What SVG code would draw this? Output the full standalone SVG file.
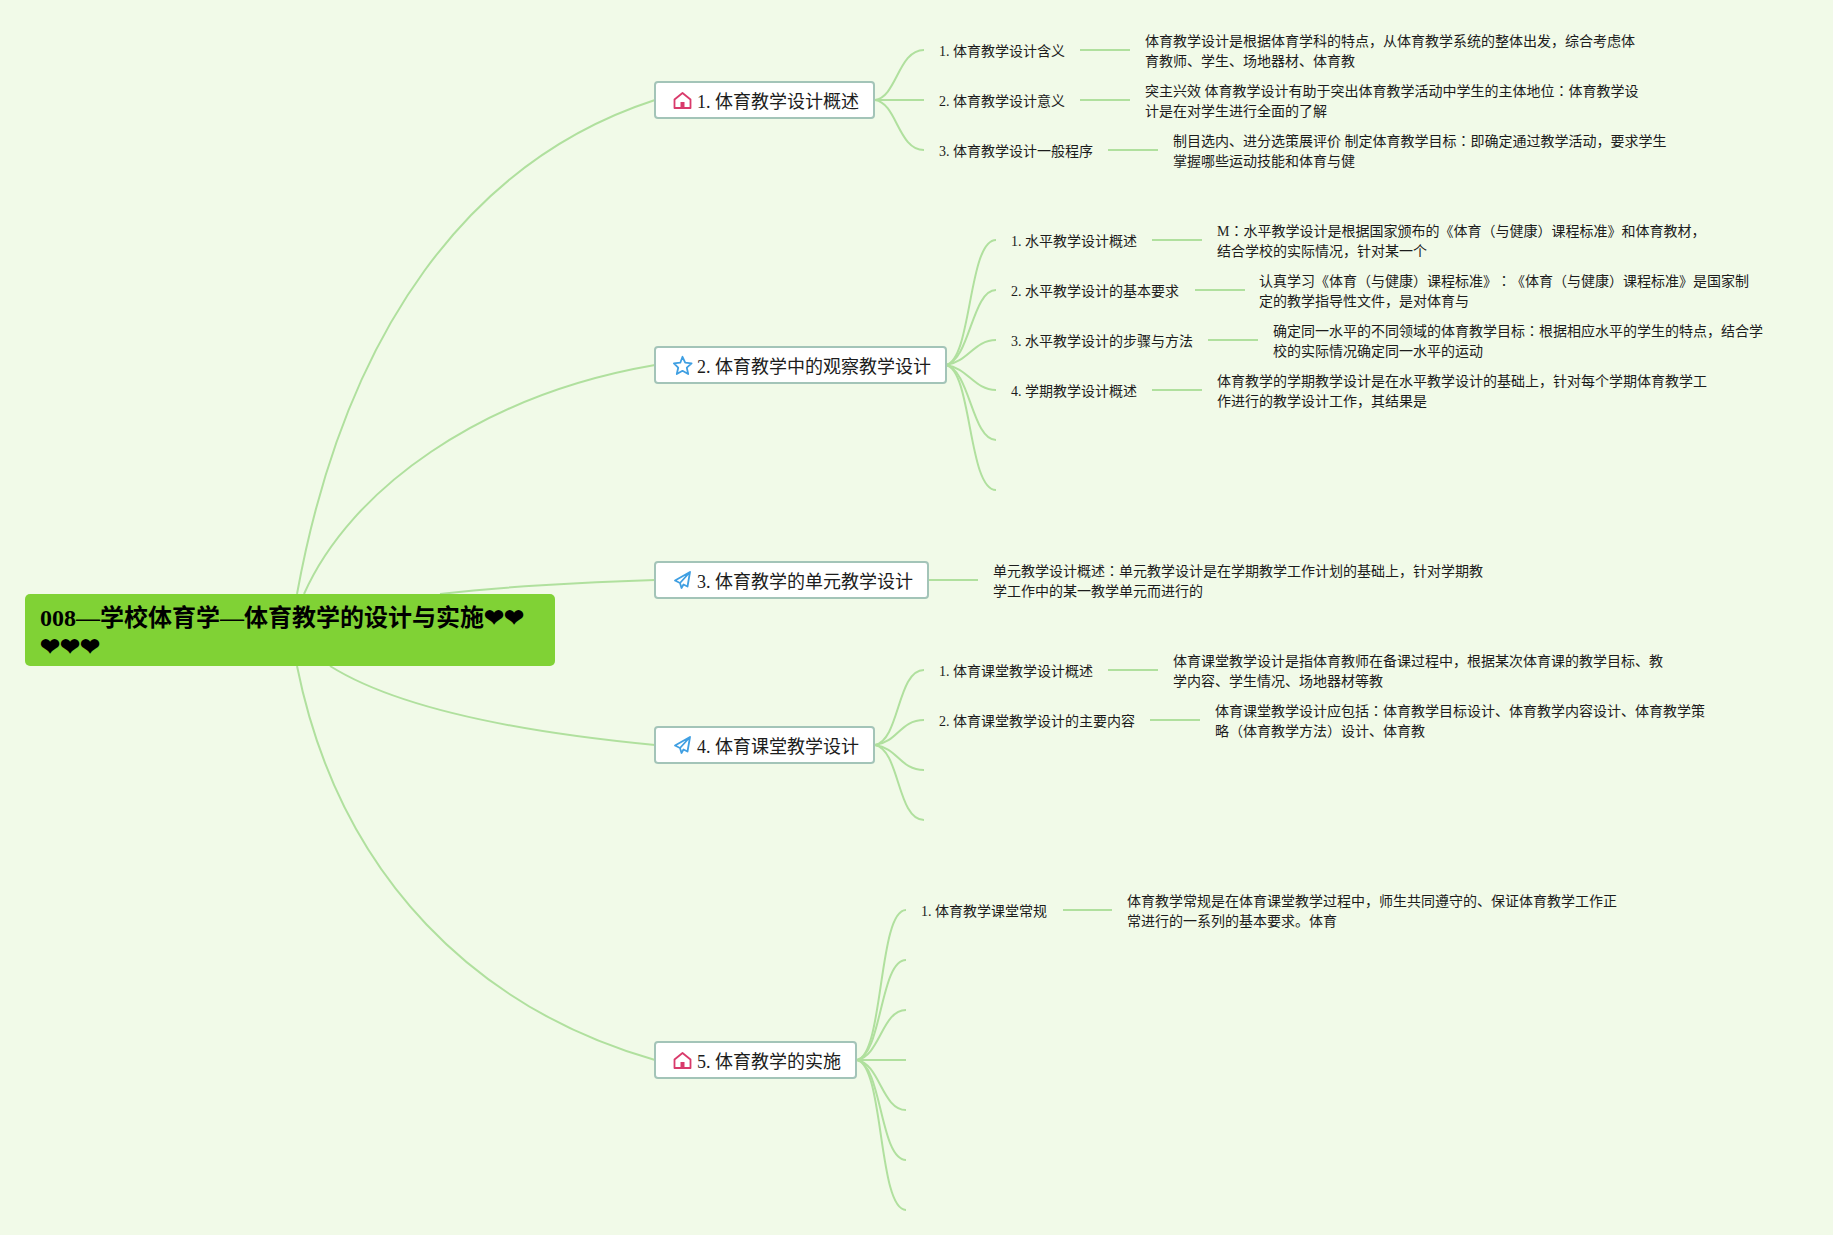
<svg xmlns="http://www.w3.org/2000/svg" width="1833" height="1235" viewBox="0 0 1833 1235">
<defs>
<style>
text{font-family:"Liberation Serif","Noto Sans CJK SC",serif;fill:#1c1c1c;font-feature-settings:"chws" 0,"halt" 0;text-spacing-trim:space-all}
.root{font-size:24px;font-weight:700;fill:#000}
.topic{font-size:18px}
.sub,.desc{font-size:14px}
.c{font-family:"Noto Sans CJK TC",sans-serif}
.node{fill:#fff;stroke:#a3c4b8;stroke-width:2}
#connectors path{fill:none;stroke:#b0e09e;stroke-width:2}
.house,.star,.plane{fill:none;stroke-width:1.8;stroke-linejoin:round}
.house{stroke:#d93a6b}.star,.plane{stroke:#3f9fe2}
</style>
<g id="icon-house"><path class="house" d="M1.500 17V8.500L9.500 2l8 6.500V17z"/><rect x="7.500" y="11" width="4" height="6" fill="#d93a6b"/></g>
<path id="icon-star" class="star" d="M9.500.8l2.700 5.900 6.400.7-4.800 4.300 1.400 6.300-5.700-3.200-5.700 3.200 1.400-6.300L.9 7.400l6.400-.7z"/>
<path id="icon-plane" class="plane" d="M17 1 2 9.500 7 12 8.500 17l2-3.500 4 2zM17 1 7 12"/>
</defs>
<rect width="1833" height="1235" fill="#f1fae8"/>
<g id="connectors">
<path d="M297 594C345 330 470 160 655 100"/>
<path d="M304 594C350 490 480 395 655 365"/>
<path d="M440 594C510 586 590 582 655 580"/>
<path d="M330 666C400 710 530 733 655 745"/>
<path d="M297 666C340 880 480 1010 655 1060"/>
<path d="M875 100C897 97 898 50 924 50"/><path d="M875 100H924"/><path d="M875 100C897 103 898 150 924 150"/>
<path d="M1080 50H1130"/><path d="M1080 100H1130"/><path d="M1108 150H1158"/>
<path d="M946 365C972 360 968 240 996 240"/><path d="M946 365C970 360 972 290 996 290"/><path d="M946 365C968 362 974 340 996 340"/><path d="M946 365C968 368 974 390 996 390"/><path d="M946 365C970 370 972 440 996 440"/><path d="M946 365C972 370 968 490 996 490"/>
<path d="M1152 240H1202"/><path d="M1195 290H1245"/><path d="M1208 340H1258"/><path d="M1152 390H1202"/>
<path d="M928 580H978"/>
<path d="M875 745C900 740 897 670 924 670"/><path d="M875 745C898 742 900 720 924 720"/><path d="M875 745C898 748 900 770 924 770"/><path d="M875 745C900 750 897 820 924 820"/>
<path d="M1108 670H1158"/><path d="M1150 720H1200"/>
<path d="M857 1060C884 1055 878 910 906 910"/><path d="M857 1060C882 1055 880 960 906 960"/><path d="M857 1060C880 1056 882 1010 906 1010"/><path d="M857 1060H906"/><path d="M857 1060C880 1064 882 1110 906 1110"/><path d="M857 1060C882 1065 880 1160 906 1160"/><path d="M857 1060C884 1065 878 1210 906 1210"/>
<path d="M1063 910H1112"/>
</g>
<g id="root"><rect x="25" y="594" width="530" height="72" rx="5" fill="#80d235"/>
<text class="root" x="40" y="626">008—学校体育学—体育教学的设计与实施❤❤</text><text class="root" x="40" y="655">❤❤❤</text></g>
<g id="t1"><rect class="node" x="655" y="82" width="219" height="36" rx="3"/><use href="#icon-house" x="673" y="91"/><text class="topic" x="697" y="108">1. 体育教学设计概述</text></g>
<g id="t1-1"><text class="sub" x="939" y="56">1. 体育教学设计含义</text><text class="desc" x="1145" y="46">体育教学设计是根据体育学科的特点，从体育教学系统的整体出发，综合考虑体</text><text class="desc" x="1145" y="66">育教师、学生、场地器材、体育教</text></g>
<g id="t1-2"><text class="sub" x="939" y="106">2. 体育教学设计意义</text><text class="desc" x="1145" y="96">突主兴效 体育教学设计有助于突出体育教学活动中学生的主体地位<tspan class="c">：</tspan>体育教学设</text><text class="desc" x="1145" y="116">计是在对学生进行全面的了解</text></g>
<g id="t1-3"><text class="sub" x="939" y="156">3. 体育教学设计一般程序</text><text class="desc" x="1173" y="146">制目选内、进分选策展评价 制定体育教学目标<tspan class="c">：</tspan>即确定通过教学活动，要求学生</text><text class="desc" x="1173" y="166">掌握哪些运动技能和体育与健</text></g>
<g id="t2"><rect class="node" x="655" y="347" width="291" height="36" rx="3"/><use href="#icon-star" x="673" y="356"/><text class="topic" x="697" y="373">2. 体育教学中的观察教学设计</text></g>
<g id="t2-1"><text class="sub" x="1011" y="246">1. 水平教学设计概述</text><text class="desc" x="1217" y="236">M<tspan class="c">：</tspan>水平教学设计是根据国家颁布的《体育（与健康）课程标准》和体育教材，</text><text class="desc" x="1217" y="256">结合学校的实际情况，针对某一个</text></g>
<g id="t2-2"><text class="sub" x="1011" y="296">2. 水平教学设计的基本要求</text><text class="desc" x="1259" y="286">认真学习《体育（与健康）课程标准》<tspan class="c">：</tspan>《体育（与健康）课程标准》是国家制</text><text class="desc" x="1259" y="306">定的教学指导性文件，是对体育与</text></g>
<g id="t2-3"><text class="sub" x="1011" y="346">3. 水平教学设计的步骤与方法</text><text class="desc" x="1273" y="336">确定同一水平的不同领域的体育教学目标<tspan class="c">：</tspan>根据相应水平的学生的特点，结合学</text><text class="desc" x="1273" y="356">校的实际情况确定同一水平的运动</text></g>
<g id="t2-4"><text class="sub" x="1011" y="396">4. 学期教学设计概述</text><text class="desc" x="1217" y="386">体育教学的学期教学设计是在水平教学设计的基础上，针对每个学期体育教学工</text><text class="desc" x="1217" y="406">作进行的教学设计工作，其结果是</text></g>
<g id="t3"><rect class="node" x="655" y="562" width="273" height="36" rx="3"/><use href="#icon-plane" x="673" y="571"/><text class="topic" x="697" y="588">3. 体育教学的单元教学设计</text></g>
<g id="t3-1"><text class="desc" x="993" y="576">单元教学设计概述<tspan class="c">：</tspan>单元教学设计是在学期教学工作计划的基础上，针对学期教</text><text class="desc" x="993" y="596">学工作中的某一教学单元而进行的</text></g>
<g id="t4"><rect class="node" x="655" y="727" width="219" height="36" rx="3"/><use href="#icon-plane" x="673" y="736"/><text class="topic" x="697" y="753">4. 体育课堂教学设计</text></g>
<g id="t4-1"><text class="sub" x="939" y="676">1. 体育课堂教学设计概述</text><text class="desc" x="1173" y="666">体育课堂教学设计是指体育教师在备课过程中，根据某次体育课的教学目标、教</text><text class="desc" x="1173" y="686">学内容、学生情况、场地器材等教</text></g>
<g id="t4-2"><text class="sub" x="939" y="726">2. 体育课堂教学设计的主要内容</text><text class="desc" x="1215" y="716">体育课堂教学设计应包括<tspan class="c">：</tspan>体育教学目标设计、体育教学内容设计、体育教学策</text><text class="desc" x="1215" y="736">略（体育教学方法）设计、体育教</text></g>
<g id="t5"><rect class="node" x="655" y="1042" width="201" height="36" rx="3"/><use href="#icon-house" x="673" y="1051"/><text class="topic" x="697" y="1068">5. 体育教学的实施</text></g>
<g id="t5-1"><text class="sub" x="921" y="916">1. 体育教学课堂常规</text><text class="desc" x="1127" y="906">体育教学常规是在体育课堂教学过程中，师生共同遵守的、保证体育教学工作正</text><text class="desc" x="1127" y="926">常进行的一系列的基本要求。体育</text></g>
</svg>
